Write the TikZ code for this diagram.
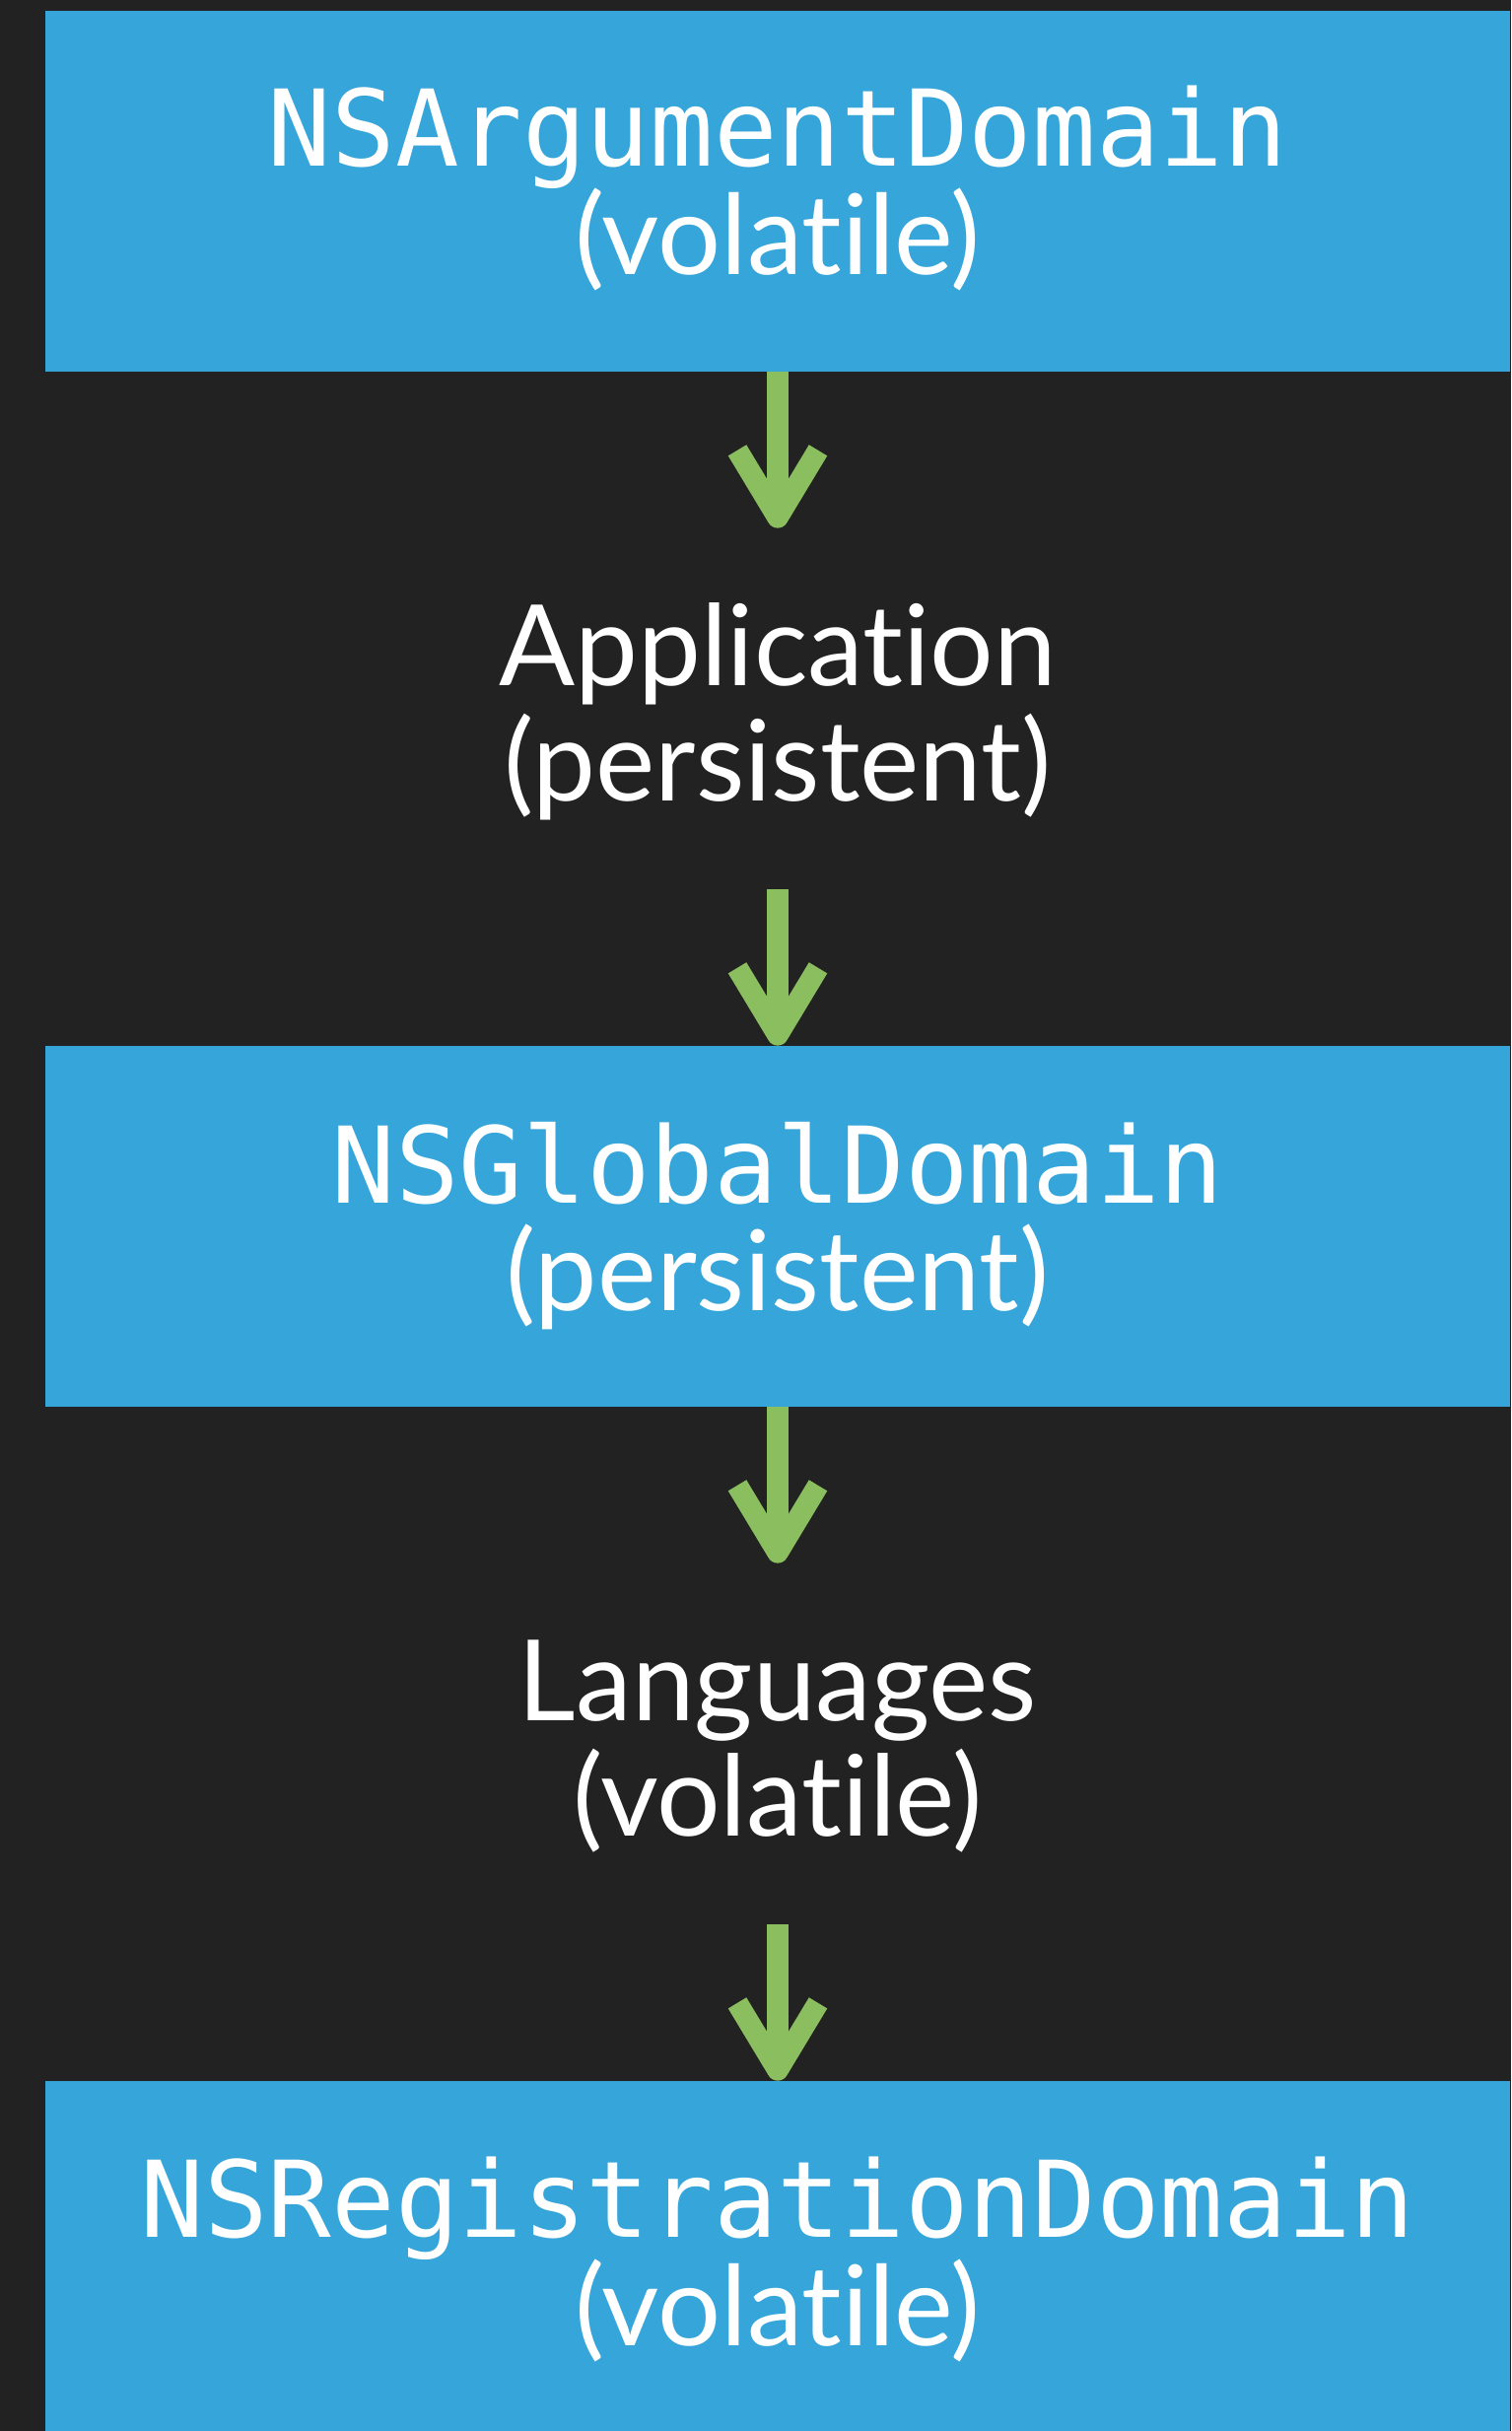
\documentclass[tikz,border=0pt]{standalone}
\usepackage{fontspec}
\setmonofont{DejaVu Sans Mono}
\newfontfamily\labelfont[Ligatures=NoCommon]{Lato}
\usepackage{tikz}
\usetikzlibrary{arrows.meta}
\definecolor{bgdark}{HTML}{222222}
\definecolor{domainblue}{HTML}{35A5DA}
\definecolor{flowgreen}{HTML}{8ABE5E}
\tikzset{every picture/.style={x=0.5pt,y=-0.5pt},
  domainbox/.style={rectangle,fill=domainblue,inner sep=0pt,minimum width=743pt,minimum height=183pt},
  tilebox/.style={rectangle,inner sep=0pt,minimum width=743pt,minimum height=183pt},
  domname/.style={anchor=base,inner sep=0pt,text=white,font=\ttfamily\fontsize{53.7pt}{60pt}\selectfont},
  domkind/.style={anchor=base,inner sep=0pt,text=white,font=\labelfont\fontsize{56.5pt}{62pt}\selectfont},
  tiletext/.style={anchor=base,inner sep=0pt,text=white,font=\labelfont\fontsize{57pt}{62pt}\selectfont},
  flow/.style={draw=flowgreen,line width=10.8pt,-{Straight Barb[length=34pt,width=41pt,line join=round]}}}

\begin{document}
\begin{tikzpicture}
            \useasboundingbox (0, 0) rectangle (1533, 2466);
            \fill[bgdark] (0, 0) rectangle (1533, 2466);

            \node[domainbox] (arg) at (789, 194) {};
            \node[tilebox] (app) at (789, 719) {};
            \node[domainbox] (glob) at (789, 1244) {};
            \node[tilebox] (lang) at (789, 1769) {};
            \node[domainbox] (reg) at (789, 2294) {};

            \node[domname] (argname) at (789, 169) {NSArgumentDomain};
            \node[domkind] (argkind) at (789, 279) {(volatile)};
            \node[tiletext] (appname) at (789, 695) {Application};
            \node[tiletext] (appkind) at (789, 812) {(persistent)};
            \node[domname] (globname) at (789, 1220) {NSGlobalDomain};
            \node[domkind] (globkind) at (789, 1329) {(persistent)};
            \node[tiletext] (langname) at (789, 1745) {Languages};
            \node[tiletext] (langkind) at (789, 1862) {(volatile)};
            \node[domname] (regname) at (789, 2269) {NSRegistrationDomain};
            \node[domkind] (regkind) at (789, 2379) {(volatile)};

            \foreach \from/\to in {arg/app, app/glob, glob/lang, lang/reg}
              \draw[flow] (\from) -- (\to);
        \end{tikzpicture}
\end{document}
